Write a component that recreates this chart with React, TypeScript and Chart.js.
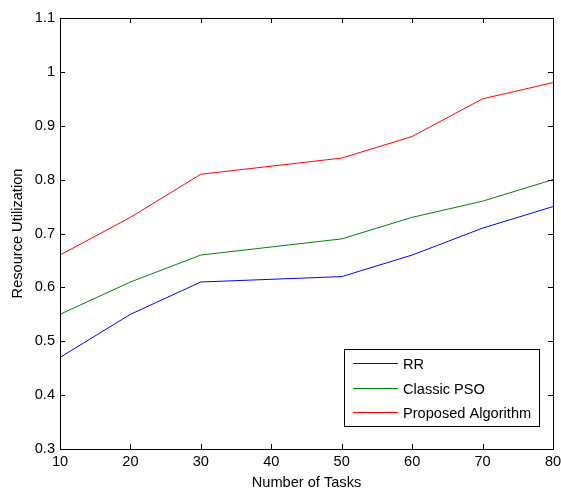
import React, { useEffect, useRef } from "react";
import { Chart, registerables } from "chart.js";

Chart.register(...registerables);

const tasks = [10, 20, 30, 50, 60, 70, 80];
const rrValues = [0.47, 0.55, 0.61, 0.62, 0.66, 0.71, 0.75];
const psoValues = [0.55, 0.61, 0.66, 0.69, 0.73, 0.76, 0.8];
const proposedValues = [0.66, 0.73, 0.81, 0.84, 0.88, 0.95, 0.98];
const seriesLabels = ["RR", "Classic PSO", "Proposed Algorithm"];
const seriesColors = ["#0000ff", "#008000", "#ff0000"];
const xTicks = [10, 20, 30, 40, 50, 60, 70, 80];
const yTicks = [0.3, 0.4, 0.5, 0.6, 0.7, 0.8, 0.9, 1.0, 1.1];

const FONT = "'Liberation Sans', Arial, Helvetica, sans-serif";
const FS = 14.6;

const boxPlugin = {
  id: "matlabBox",
  afterDatasetsDraw(chart: any) {
    const { ctx, chartArea, scales } = chart;
    const { left, right, top, bottom } = chartArea;
    ctx.save();
    ctx.strokeStyle = "#000";
    ctx.lineWidth = 1;
    const tl = 5;
    ctx.beginPath();
    for (const v of xTicks) {
      const x = Math.round(scales.x.getPixelForValue(v)) + 0.5;
      ctx.moveTo(x, bottom);
      ctx.lineTo(x, bottom - tl);
      ctx.moveTo(x, top);
      ctx.lineTo(x, top + tl);
    }
    for (const v of yTicks) {
      const y = Math.round(scales.y.getPixelForValue(v)) + 0.5;
      ctx.moveTo(left, y);
      ctx.lineTo(left + tl, y);
      ctx.moveTo(right, y);
      ctx.lineTo(right - tl, y);
    }
    ctx.stroke();
    ctx.strokeRect(Math.round(left) + 0.5, Math.round(top) + 0.5, Math.round(right - left), Math.round(bottom - top));

    // legend
    ctx.font = `${FS}px ${FONT}`;
    const datasets = chart.data.datasets;
    let maxW = 0;
    for (const d of datasets) maxW = Math.max(maxW, ctx.measureText(d.label).width);
    const boxW = Math.round(maxW + 67);
    const rowH = 24.5;
    const boxH = Math.round(14 * 2 + rowH * (datasets.length - 1));
    const bx = Math.round(right - 14 - boxW);
    const by = Math.round(bottom - 23 - boxH);
    ctx.fillStyle = "#fff";
    ctx.fillRect(bx, by, boxW, boxH);
    ctx.strokeRect(bx + 0.5, by + 0.5, boxW, boxH);
    ctx.textBaseline = "middle";
    ctx.textAlign = "left";
    datasets.forEach((d: any, i: number) => {
      const cy = Math.round(by + 14 + rowH * i) + 0.5;
      ctx.strokeStyle = d.borderColor;
      ctx.beginPath();
      ctx.moveTo(bx + 9, cy);
      ctx.lineTo(bx + 54, cy);
      ctx.stroke();
      ctx.fillStyle = "#000";
      ctx.fillText(d.label, bx + 59, cy + 1);
    });
    ctx.restore();
  },
};

export default function App() {
  const ref = useRef<HTMLCanvasElement>(null);
  useEffect(() => {
    document.body.style.margin = "0";
    const series = [rrValues, psoValues, proposedValues];
    const chart = new Chart(ref.current!, {
      type: "line",
      data: {
        datasets: series.map((vals, i) => ({
          label: seriesLabels[i],
          data: tasks.map((t, j) => ({ x: t, y: vals[j] })),
          borderColor: seriesColors[i],
          backgroundColor: seriesColors[i],
          borderWidth: 1,
          pointRadius: 0,
          tension: 0,
          fill: false,
        })),
      },
      options: {
        animation: false,
        responsive: false,
        maintainAspectRatio: false,
        layout: { padding: { top: 18, right: 8, left: 0, bottom: 0 } },
        plugins: { legend: { display: false }, tooltip: { enabled: false } },
        scales: {
          x: {
            type: "linear",
            min: 10,
            max: 80,
            afterFit: (s: any) => {
              s.height = 41;
              s.paddingLeft = 0;
              s.paddingRight = 0;
            },
            afterBuildTicks: (s: any) => {
              s.ticks = xTicks.map((v) => ({ value: v }));
            },
            ticks: {
              padding: 4,
              color: "#000",
              font: { family: FONT, size: FS },
              maxRotation: 0,
              callback: (v: any) => String(v),
            },
            grid: { display: false, drawTicks: false },
            border: { display: false },
            title: {
              display: true,
              text: "Number of Tasks",
              color: "#000",
              font: { family: FONT, size: FS, lineHeight: 1 },
              padding: { top: 0, bottom: 0 },
            },
          },
          y: {
            type: "linear",
            min: 0.3,
            max: 1.1,
            afterFit: (s: any) => {
              s.width = 60;
              s.paddingTop = 0;
              s.paddingBottom = 0;
            },
            afterBuildTicks: (s: any) => {
              s.ticks = yTicks.map((v) => ({ value: v }));
            },
            ticks: {
              padding: 5,
              color: "#000",
              font: { family: FONT, size: FS },
              callback: (v: any) => String(Math.round(v * 10) / 10),
            },
            grid: { display: false, drawTicks: false },
            border: { display: false },
            title: {
              display: true,
              text: "Resource Utilization",
              color: "#000",
              font: { family: FONT, size: FS, lineHeight: 1 },
              padding: { top: 11, bottom: 0 },
            },
          },
        },
      },
      plugins: [boxPlugin],
    });
    return () => chart.destroy();
  }, []);
  return (
    <div style={{ position: "absolute", left: 0, top: 0, width: 561, height: 490, background: "#fff" }}>
      <canvas ref={ref} width={561} height={490} style={{ width: 561, height: 490 }} />
    </div>
  );
}
